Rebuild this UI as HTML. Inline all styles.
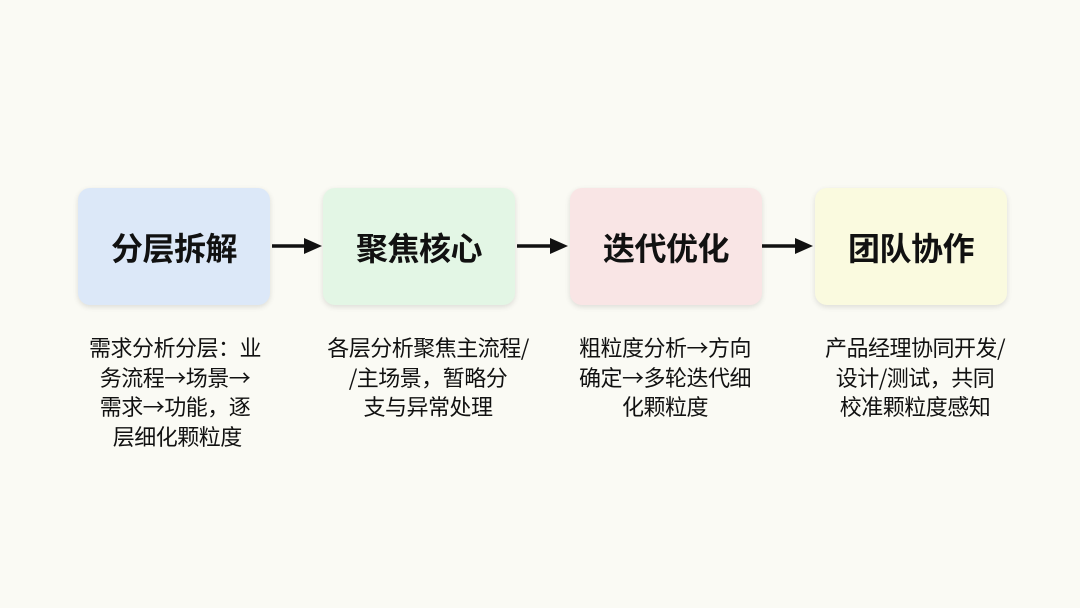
<!DOCTYPE html>
<html><head><meta charset="utf-8"><style>
body{margin:0;width:1080px;height:608px;background:#fafaf4;position:relative;overflow:hidden;font-family:"Noto Sans CJK SC",sans-serif;}
.b{position:absolute;top:188px;width:192px;height:117px;border-radius:12px;box-shadow:0 2px 6px rgba(0,0,0,0.12);display:flex;align-items:center;justify-content:center;font-size:32px;font-weight:bold;color:#111;letter-spacing:-0.5px}
.d{position:absolute;top:333px;width:240px;text-align:center;font-size:22px;line-height:29.5px;color:#111;letter-spacing:-0.5px}
svg{position:absolute;left:0;top:0}
</style></head><body>
<div class="b" style="left:78px;background:#dce8f8">分层拆解</div>
<div class="b" style="left:323px;background:#e3f6e5">聚焦核心</div>
<div class="b" style="left:570px;background:#f9e5e5">迭代优化</div>
<div class="b" style="left:815px;background:#fafadf">团队协作</div>
<div class="d" style="left:55px">需求分析分层：业<br>务流程→场景→<br>需求→功能，逐<br>&nbsp;层细化颗粒度</div>
<div class="d" style="left:308px">各层分析聚焦主流程/<br>/主场景，暂略分<br>支与异常处理</div>
<div class="d" style="left:545px">粗粒度分析→方向<br>确定→多轮迭代细<br>化颗粒度</div>
<div class="d" style="left:795px">产品经理协同开发/<br>设计/测试，共同<br>校准颗粒度感知</div>
<svg width="1080" height="608">
<g stroke="#111" stroke-width="3.5"><line x1="272" y1="246" x2="306" y2="246"/><line x1="517" y1="246" x2="552" y2="246"/><line x1="762" y1="246" x2="797" y2="246"/></g>
<g fill="#111"><polygon points="304,238 322,246 304,254"/><polygon points="550,238 568,246 550,254"/><polygon points="795,238 813,246 795,254"/></g>
</svg>
</body></html>
